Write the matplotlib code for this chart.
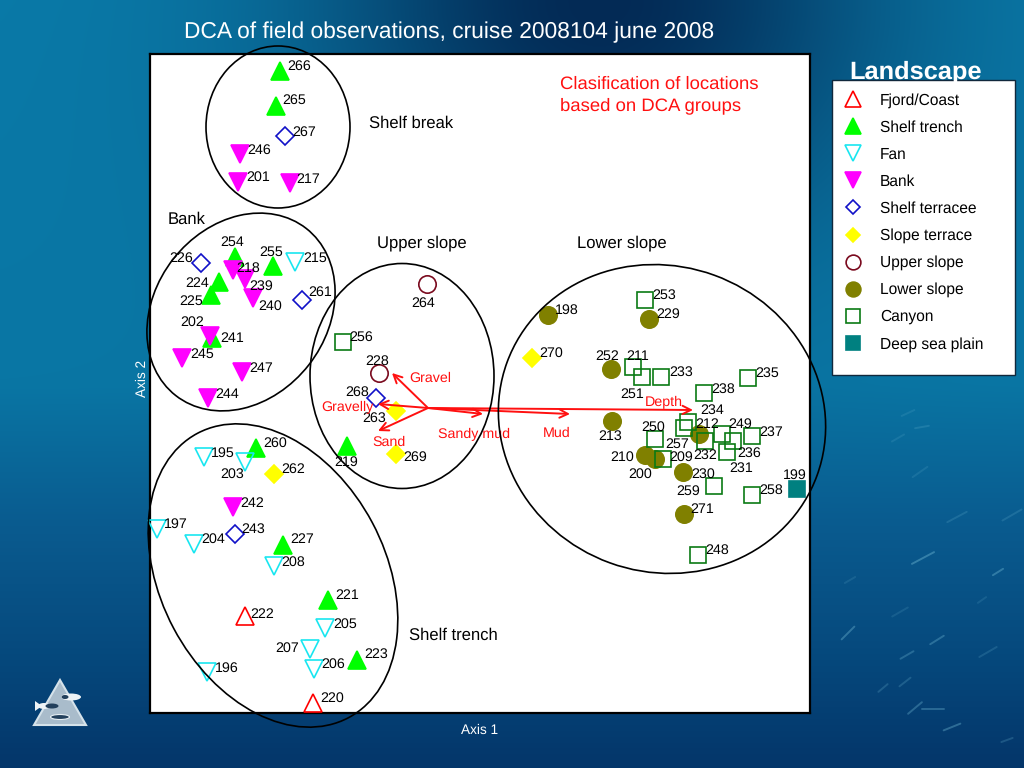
import numpy as np
import matplotlib
matplotlib.use("Agg")
import matplotlib.pyplot as plt
from matplotlib.patches import Ellipse, Polygon, Rectangle
from matplotlib.colors import to_rgb

plt.rcParams['font.family'] = ['Liberation Sans', 'DejaVu Sans']
plt.rcParams['text.hinting'] = 'no_hinting'

# all values, in pixels of the 1024x768 slide
fjord_id = ['222', '220']
fjord_x = [245, 313]
fjord_y = [616, 703]
fjord_lx = [262, 332]
fjord_ly = [613, 697]

trench_id = ['266', '265', '254', '255', '224', '225', '241', '260', '219', '227', '221', '223']
trench_x = [280, 276, 235, 273, 219, 211, 212, 256, 347, 283, 328, 357]
trench_y = [71, 106, 257, 266, 282, 295, 338, 448, 446, 545, 600, 660]
trench_lx = [299, 294, 232, 271, 197, 191, 232, 275, 346, 302, 347, 376]
trench_ly = [65, 99, 241, 251, 282, 300, 337, 442, 461, 538, 594, 653]

fan_id = ['215', '195', '203', '197', '204', '208', '205', '207', '206', '196']
fan_x = [295, 204, 245, 157, 194, 274, 325, 310, 314, 207]
fan_y = [262, 457, 462, 529, 544, 566, 628, 649, 669, 672]
fan_lx = [315, 223, 232, 176, 213, 293, 345, 287, 333, 227]
fan_ly = [257, 452, 473, 523, 538, 561, 623, 647, 663, 667]

bank_id = ['246', '201', '217', '218', '239', '240', '202', '245', '247', '244', '242']
bank_x = [240, 238, 290, 233, 245, 253, 210, 182, 242, 208, 233]
bank_y = [154, 182, 183, 270, 279, 298, 336, 358, 372, 398, 507]
bank_lx = [259, 258, 308, 248, 261, 270, 192, 202, 261, 227, 252]
bank_ly = [149, 176, 178, 267, 285, 305, 321, 353, 367, 393, 502]

terrace_id = ['267', '226', '261', '268', '243']
terrace_x = [285, 201, 302, 376, 235]
terrace_y = [136, 263, 300, 398, 534]
terrace_lx = [304, 181, 320, 357, 253]
terrace_ly = [131, 257, 291, 391, 528]

slope_t_id = ['262', '263', '269', '270']
slope_t_x = [274, 396, 396, 532]
slope_t_y = [474, 411, 454, 358]
slope_t_lx = [293, 374, 415, 551]
slope_t_ly = [468, 417, 456, 352]

upper_id = ['264', '228']
upper_x = [427, 379]
upper_y = [284, 373]
upper_lx = [423, 377]
upper_ly = [302, 360]

lower_id = ['198', '229', '252', '213', '212', '210', '200', '230', '271']
lower_x = [548, 649, 611, 612, 699, 645, 655, 683, 684]
lower_y = [315, 319, 369, 421, 434, 455, 459, 472, 514]
lower_lx = [567, 668, 607, 610, 707, 622, 640, 703, 702]
lower_ly = [309, 313, 355, 435, 423, 456, 473, 473, 508]

canyon_id = ['256', '253', '211', '251', '233', '238', '235', '234', '257', '250',
             '209', '232', '249', '236', '237', '231', '259', '258', '248']
canyon_x = [343, 645, 633, 642, 661, 704, 748, 688, 684, 655,
            663, 705, 722, 733, 752, 727, 714, 752, 698]
canyon_y = [342, 300, 367, 377, 377, 393, 378, 422, 428, 439,
            459, 441, 434, 441, 436, 452, 486, 495, 555]
canyon_lx = [361, 664, 638, 632, 681, 723, 767, 712, 677, 653,
             681, 705, 740, 749, 771, 741, 688, 771, 717]
canyon_ly = [336, 294, 355, 393, 371, 388, 372, 409, 443, 426,
             456, 454, 423, 452, 431, 467, 490, 489, 549]

deep_id = ['199']
deep_x = [797]
deep_y = [489]
deep_lx = [795]
deep_ly = [474]

# DCA arrows
arrow_names = ['Gravel', 'Gravelly', 'Sand', 'Sandy mud', 'Mud', 'Depth']
arrow_x = [392, 378, 378, 483, 570, 693]
arrow_y = [373, 404, 431, 414, 414, 410]
arrow_lx = [430, 347, 389, 474, 557, 664]
arrow_ly = [377, 406, 441, 433, 432, 401]

group_names = ['Shelf break', 'Bank', 'Upper slope', 'Lower slope', 'Shelf trench']
group_x = [411, 187, 422, 622, 453]
group_y = [123, 219, 243, 243, 635]

# light streaks in the sea photo, x, y, length, angle, alpha
streaks = [(923, 558, 25, 28, .55), (998, 572, 12, 32, .5), (848, 633, 18, 45, .5),
           (937, 640, 16, 32, .45), (907, 655, 15, 30, .4), (915, 708, 18, 40, .45),
           (933, 709, 22, 0, .45), (952, 727, 18, 22, .5), (957, 517, 22, 28, .25),
           (1012, 515, 22, 30, .25), (988, 652, 20, 30, .25), (900, 612, 18, 30, .2),
           (905, 682, 14, 38, .3), (883, 688, 12, 40, .3), (1007, 740, 12, 20, .3),
           (922, 427, 14, 10, .25), (898, 438, 14, 30, .2), (920, 472, 18, 35, .2),
           (908, 413, 14, 25, .2), (850, 580, 12, 30, .2), (982, 600, 10, 35, .2)]

fig = plt.figure(figsize=(10.24, 7.68), dpi=100)

# slide background
bg = fig.add_axes([0, 0, 1, 1], zorder=-1)
gx, gy = np.meshgrid(np.linspace(0, 1024, 256), np.linspace(0, 768, 192))
stops = [0, 384, 520, 650, 768]
cols = np.array([to_rgb(c) for c in ['#0a7aa8', '#0a76a4', '#0a5c90', '#064a7e', '#04366a']])
img = np.dstack([np.interp(gy, stops, cols[:, i]) for i in range(3)])
blob = np.exp(-((gx - 600) / 280) ** 2 - (gy / 230) ** 2)[..., None]
img = img * (1 - blob) + np.array(to_rgb('#032a55')) * blob
bg.imshow(img, extent=[0, 1024, 768, 0], aspect='auto', interpolation='bilinear')
bg.set_xlim(0, 1024)
bg.set_ylim(768, 0)
bg.axis('off')
for sx, sy, sl, sa, al in streaks:
    dx = sl / 2 * np.cos(np.radians(sa))
    dy = sl / 2 * np.sin(np.radians(sa))
    bg.plot([sx - dx, sx + dx], [sy + dy, sy - dy], color='#7cc4dc', lw=1.4, alpha=al * 0.7,
            solid_capstyle='round')

# logo
bg.add_patch(Polygon([[60, 680], [34, 725], [86, 725]], fc='#a9bccb', ec='#d5e2ea', lw=1.5))
bg.add_patch(Ellipse((71, 697), 20, 7, fc='#eef3f6', ec='none'))
bg.add_patch(Ellipse((65, 697), 7, 4, fc='#23405c', ec='none'))
bg.add_patch(Polygon([[35, 701], [42, 706], [35, 711]], fc='#eef3f6', ec='none'))
bg.add_patch(Ellipse((44, 706), 12, 6, fc='#eef3f6', ec='none'))
bg.add_patch(Ellipse((52, 706), 13, 5, fc='#23405c', ec='none'))
bg.add_patch(Ellipse((60, 717), 19, 5, fc='#23405c', ec='#e6eef3', lw=0.8))

bg.text(916, 72, 'Landscape', color='white', fontsize=18.3, fontweight='bold',
        ha='center', va='center')
bg.text(449.5, 32, 'DCA of field observations, cruise 2008104 june 2008', color='white',
        fontsize=16.4, ha='center', va='center')

ax = fig.add_axes([150 / 1024, 1 - 713 / 768, 660 / 1024, 659 / 768], zorder=1)
ax.set_xlim(150, 810)
ax.set_ylim(713, 54)
ax.set_xticks([])
ax.set_yticks([])
for sp in ax.spines.values():
    sp.set_linewidth(1.6)
    sp.set_color('black')
ax.set_xlabel('Axis 1', color='white', fontsize=9.8, labelpad=8)
ax.set_ylabel('Axis 2', color='white', fontsize=9.8, labelpad=1, y=0.508)

series = [
    ('Fjord/Coast', '^', 'none', '#ff0000', fjord_id, fjord_x, fjord_y, fjord_lx, fjord_ly),
    ('Shelf trench', '^', '#00ff00', '#00ff00', trench_id, trench_x, trench_y, trench_lx, trench_ly),
    ('Fan', 'v', 'none', '#19e6f0', fan_id, fan_x, fan_y, fan_lx, fan_ly),
    ('Bank', 'v', '#ff00ff', '#ff00ff', bank_id, bank_x, bank_y, bank_lx, bank_ly),
    ('Shelf terracee', 'D', 'none', '#1010c8', terrace_id, terrace_x, terrace_y, terrace_lx, terrace_ly),
    ('Slope terrace', 'D', '#ffff00', '#ffff00', slope_t_id, slope_t_x, slope_t_y, slope_t_lx, slope_t_ly),
    ('Upper slope', 'o', 'none', '#7a0a1e', upper_id, upper_x, upper_y, upper_lx, upper_ly),
    ('Lower slope', 'o', '#808000', '#808000', lower_id, lower_x, lower_y, lower_lx, lower_ly),
    ('Canyon', 's', 'none', '#0a7a14', canyon_id, canyon_x, canyon_y, canyon_lx, canyon_ly),
    ('Deep sea plain', 's', '#008080', '#008080', deep_id, deep_x, deep_y, deep_lx, deep_ly),
]
sizes = {'^': 13, 'v': 13, 'D': 8.8, 'o': 12.5, 's': 12}

handles = []
for name, mk, fc, ec, ids, xs, ys, lxs, lys in series:
    line, = ax.plot(xs, ys, ls='none', marker=mk, ms=sizes[mk], mfc=fc, mec=ec,
                    mew=1.2, label=name, zorder=3, clip_on=False)
    handles.append(line)
    for t, lx, ly in zip(ids, lxs, lys):
        ax.text(lx, ly + 1, t, fontsize=10.3, color='black', ha='center', va='center', zorder=5)

# sediment / depth vectors
for x1, y1 in zip(arrow_x, arrow_y):
    ax.annotate('', xy=(x1, y1), xytext=(428, 408), zorder=4,
                arrowprops=dict(arrowstyle='->,head_width=0.3,head_length=0.6',
                                color='#ff1010', lw=1.4, shrinkA=0, shrinkB=0))
for t, lx, ly in zip(arrow_names, arrow_lx, arrow_ly):
    ax.text(lx, ly + 1, t, color='#ff1010', fontsize=10.3, ha='center', va='center', zorder=5)

for t, gx_, gy_ in zip(group_names, group_x, group_y):
    ax.text(gx_, gy_, t, fontsize=12, color='black', ha='center', va='center', zorder=5)

ax.text(560, 95, 'Clasification of locations\nbased on DCA groups', color='#ff1010',
        fontsize=13.3, ha='left', va='center', linespacing=1.3)

# group outlines
for c, w, h, ang in [((278, 127), 144, 162, 0),
                     ((241, 312), 212, 172, -52),
                     ((402, 376), 184, 225, 0),
                     ((662, 419), 330, 306, 20),
                     ((273, 575.5), 322, 225, 62)]:
    ax.add_patch(Ellipse(c, w, h, angle=ang, fc='none', ec='black', lw=1.2,
                         clip_on=False, zorder=6))

# legend box sits over the Landscape heading
bg.add_patch(Rectangle((832, 80), 183, 295, fc='white', ec='#10283c', lw=1))
ax.legend(handles=handles, loc='upper left', frameon=False, fontsize=11.2,
          bbox_to_anchor=(836, 90), bbox_transform=ax.transData, borderpad=0.2,
          labelspacing=0.78, handletextpad=0.82, handlelength=1.8, borderaxespad=0,
          numpoints=1, markerscale=0.85)

fig.savefig('out.png', dpi=100)
